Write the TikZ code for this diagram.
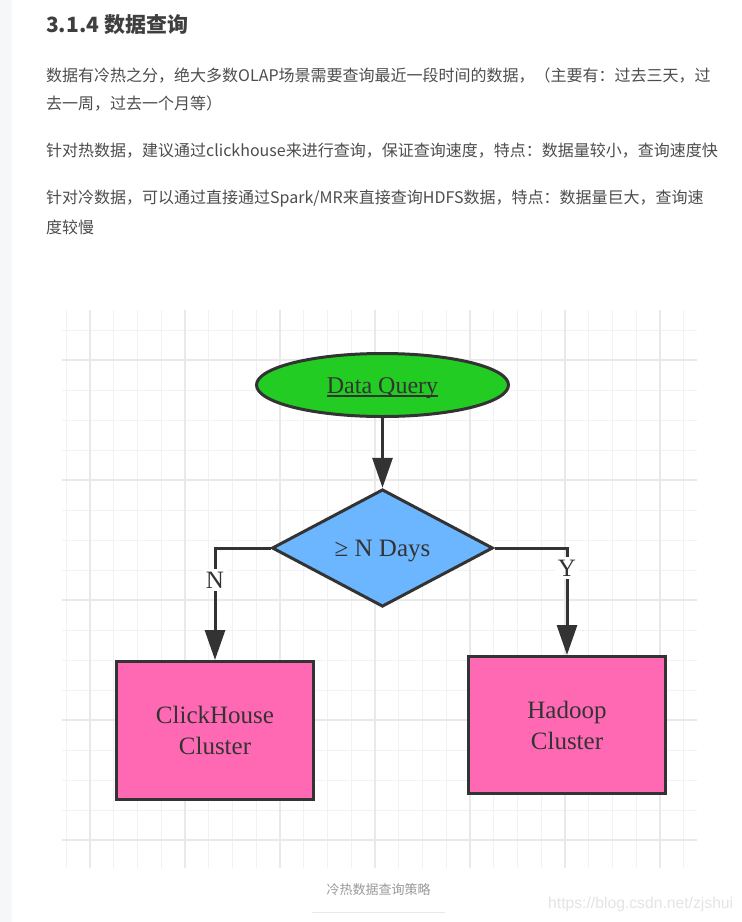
\documentclass[tikz,border=0pt]{standalone}
\usepackage{fontspec}
\setmainfont{Liberation Serif}
\newfontfamily\cjk{Noto Sans CJK SC}
\newfontfamily\wmfont{Liberation Sans}
\usetikzlibrary{shapes.geometric,arrows.meta}
\newcommand{\thickunder}[1]{\setbox0=\hbox{#1}\rlap{\rule[-3.5pt]{\wd0}{1.5pt}}\box0}
\newcommand{\lowertext}[1]{\raisebox{-3pt}[\height][\depth]{#1}}
\definecolor{txt}{HTML}{4D4D4D}
\definecolor{headc}{HTML}{3F3F3F}
\definecolor{edge}{HTML}{333333}
\definecolor{qgreen}{HTML}{22CC22}
\definecolor{qblue}{HTML}{6CB6FF}
\definecolor{qpink}{HTML}{FF69B4}
\definecolor{gridminor}{HTML}{F2F2F2}
\definecolor{gridmajor}{HTML}{E9E9E9}
\definecolor{strip}{HTML}{F6F7F8}
\definecolor{capc}{HTML}{999999}
\definecolor{wmc}{HTML}{E4E4E4}
\begin{document}
\begin{tikzpicture}[x=1pt,y=-1pt,
  para/.style={anchor=west, inner sep=0pt, text=txt, font=\cjk\fontsize{16}{16}\selectfont},
  head/.style={anchor=west, inner sep=0pt, text=headc, font=\cjk\bfseries\fontsize{21}{21}\selectfont},
  flowline/.style={line width=3pt, draw=edge},
  arr/.style={flowline, -{Triangle[length=30pt,width=20pt]}},
  startnode/.style={ellipse, draw=edge, line width=3pt, fill=qgreen, minimum width=252pt, minimum height=63pt, inner sep=0pt, text=edge, font=\fontsize{24}{24}\selectfont},
  decnode/.style={diamond, draw=edge, line width=3pt, fill=qblue, minimum width=221pt, minimum height=112pt, inner sep=0pt, text=edge, font=\fontsize{25}{25}\selectfont},
  clusterbox/.style={rectangle, draw=edge, line width=3pt, fill=qpink, minimum width=197pt, minimum height=138pt, inner sep=0pt, align=center, text=edge, font=\fontsize{25}{31}\selectfont},
  branchlabel/.style={fill=white, inner sep=3pt, text=edge, font=\fontsize{25}{25}\selectfont},
  caption/.style={inner sep=0pt, text=capc, font=\cjk\fontsize{13}{13}\selectfont},
  watermark/.style={anchor=west, inner sep=0pt, text=wmc, font=\wmfont\fontsize{15.7}{15.7}\selectfont}
]
\useasboundingbox (0,0) rectangle (742,922);
\fill[white] (0,0) rectangle (742,922);
\fill[strip] (0,0) rectangle (12,922);

% text block
\node[head] (title) at (46,25) {3.1.4 数据查询};
\node[para] (p1) at (46,76) {数据有冷热之分，绝大多数OLAP场景需要查询最近一段时间的数据，（主要有：过去三天，过};
\node[para] (p2) at (46,104) {去一周，过去一个月等）};
\node[para] (p3) at (46,151) {针对热数据，建议通过clickhouse来进行查询，保证查询速度，特点：数据量较小，查询速度快};
\node[para] (p4) at (46,199) {针对冷数据，可以通过直接通过Spark/MR来直接查询HDFS数据，特点：数据量巨大，查询速};
\node[para] (p5) at (46,227) {度较慢};

% grid
\foreach \i in {0,...,26} {
  \draw[gridminor, line width=1pt] ({66.25+23.75*\i},310) -- ({66.25+23.75*\i},868);
}
\foreach \j in {0,...,17} {
  \draw[gridminor, line width=1pt] (62,{330+30*\j}) -- (697,{330+30*\j});
}
\foreach \i in {0,...,6} {
  \draw[gridmajor, line width=1.6pt] ({90+95*\i},310) -- ({90+95*\i},868);
}
\foreach \j in {0,...,4} {
  \draw[gridmajor, line width=1.6pt] (62,{360+120*\j}) -- (697,{360+120*\j});
}

% flowchart
\node[startnode] (query) at (382.5,385) {\lowertext{\thickunder{Data Query}}};
\node[decnode] (days) at (382.5,548) {\lowertext{≥ N Days}};
\node[clusterbox] (ch) at (215,730.5) {ClickHouse\\Cluster};
\node[clusterbox, minimum height=137pt] (hd) at (567,725) {Hadoop\\Cluster};

\draw[arr] (query) -- (days);
\draw[arr] (days.west) -| node[branchlabel, pos=0.643] {N} (ch.north);
\draw[arr] (days.east) -| node[branchlabel, pos=0.593] {Y} (hd.north);

% caption and watermark
\node[caption] (cap) at (378.5,890) {冷热数据查询策略};
\draw[gridmajor, line width=1pt] (312,912) -- (445,912);
\node[watermark] (wm) at (548,904) {https://blog.csdn.net/zjshui};
\end{tikzpicture}
\end{document}
